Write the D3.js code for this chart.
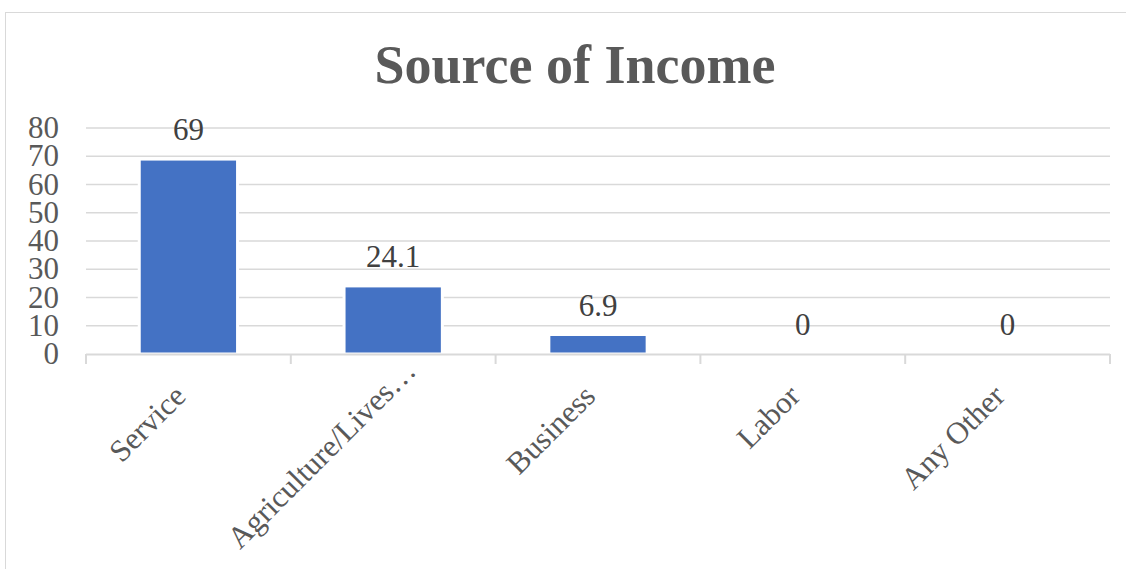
<!DOCTYPE html>
<html>
<head>
<meta charset="utf-8">
<script src="https://cdn.jsdelivr.net/npm/d3@7"></script>
<style>
  body { margin: 0; background: #fff; }
  text { font-family: "Liberation Serif", "Times New Roman", serif; }
</style>
</head>
<body>
<script>
var categories = ['Service', 'Agriculture/Lives\u2026', 'Business', 'Labor', 'Any Other'];
var values = [69, 24.1, 6.9, 0, 0];
var yTicks = [0, 10, 20, 30, 40, 50, 60, 70, 80];
var title = 'Source of Income';

(function() {
    var width = 1126, height = 569;
    var svg = d3.select('body').append('svg')
        .attr('width', width)
        .attr('height', height);

    // chart frame
    svg.append('rect')
        .attr('x', 5.5).attr('y', 12.5)
        .attr('width', 1130).attr('height', 570)
        .attr('fill', 'none')
        .attr('stroke', '#d9d9d9');

    var left = 86, right = 1110, top = 128, bottom = 354;

    var x = d3.scaleBand()
        .domain(categories)
        .range([left, right])
        .paddingInner(0.52)
        .paddingOuter(0.26);

    var y = d3.scaleLinear()
        .domain([0, 80])
        .range([bottom, top]);

    svg.append('text')
        .attr('x', 575).attr('y', 83)
        .attr('text-anchor', 'middle')
        .attr('font-size', 54)
        .attr('font-weight', 'bold')
        .attr('fill', '#595959')
        .text(title);

    // gridlines
    svg.append('g').selectAll('line')
        .data(yTicks.filter(function(d) { return d > 0; }))
        .enter().append('line')
        .attr('x1', left).attr('x2', right)
        .attr('y1', function(d) { return y(d); })
        .attr('y2', function(d) { return y(d); })
        .attr('stroke', '#d9d9d9')
        .attr('stroke-width', 1.5);

    // y labels
    svg.append('g').selectAll('text')
        .data(yTicks)
        .enter().append('text')
        .attr('x', 59)
        .attr('y', function(d) { return y(d) + 10; })
        .attr('text-anchor', 'end')
        .attr('font-size', 31)
        .attr('fill', '#595959')
        .text(function(d) { return d; });

    // bars
    svg.append('g').selectAll('rect')
        .data(values)
        .enter().append('rect')
        .attr('x', function(d, i) { return x(categories[i]); })
        .attr('y', function(d) { return y(d); })
        .attr('width', x.bandwidth())
        .attr('height', function(d) { return bottom - y(d); })
        .attr('fill', '#4472c4')
        .attr('stroke', '#fff')
        .attr('stroke-width', function(d) { return d > 0 ? 3 : 0; });

    // x axis line and ticks
    var tickX = categories.map(function(c) { return x(c) - x.step() * 0.26; });
    tickX.push(right);
    svg.append('line')
        .attr('x1', left).attr('x2', right)
        .attr('y1', bottom + 0.5).attr('y2', bottom + 0.5)
        .attr('stroke', '#d9d9d9').attr('stroke-width', 2);
    svg.append('g').selectAll('line')
        .data(tickX)
        .enter().append('line')
        .attr('x1', function(d) { return d; })
        .attr('x2', function(d) { return d; })
        .attr('y1', bottom).attr('y2', bottom + 10)
        .attr('stroke', '#d9d9d9').attr('stroke-width', 2);

    // value labels
    svg.append('g').selectAll('text')
        .data(values)
        .enter().append('text')
        .attr('x', function(d, i) { return x(categories[i]) + x.bandwidth() / 2; })
        .attr('y', function(d) { return y(d) - 19; })
        .attr('text-anchor', 'middle')
        .attr('font-size', 31)
        .attr('fill', '#404040')
        .text(function(d) { return d; });

    // category labels, truncated ones sit further along the slope
    svg.append('g').selectAll('text')
        .data(categories)
        .enter().append('text')
        .attr('transform', function(d) {
            var cx = x(d) + x.bandwidth() / 2 - 1;
            return 'translate(' + cx + ',' + (bottom + 44) + ') rotate(-45)';
        })
        .attr('dx', function(d) { return d.slice(-1) === '\u2026' ? 36 : 0; })
        .attr('text-anchor', 'end')
        .attr('font-size', 31)
        .attr('fill', '#595959')
        .text(function(d) { return d; });
}());
</script>
</body>
</html>
